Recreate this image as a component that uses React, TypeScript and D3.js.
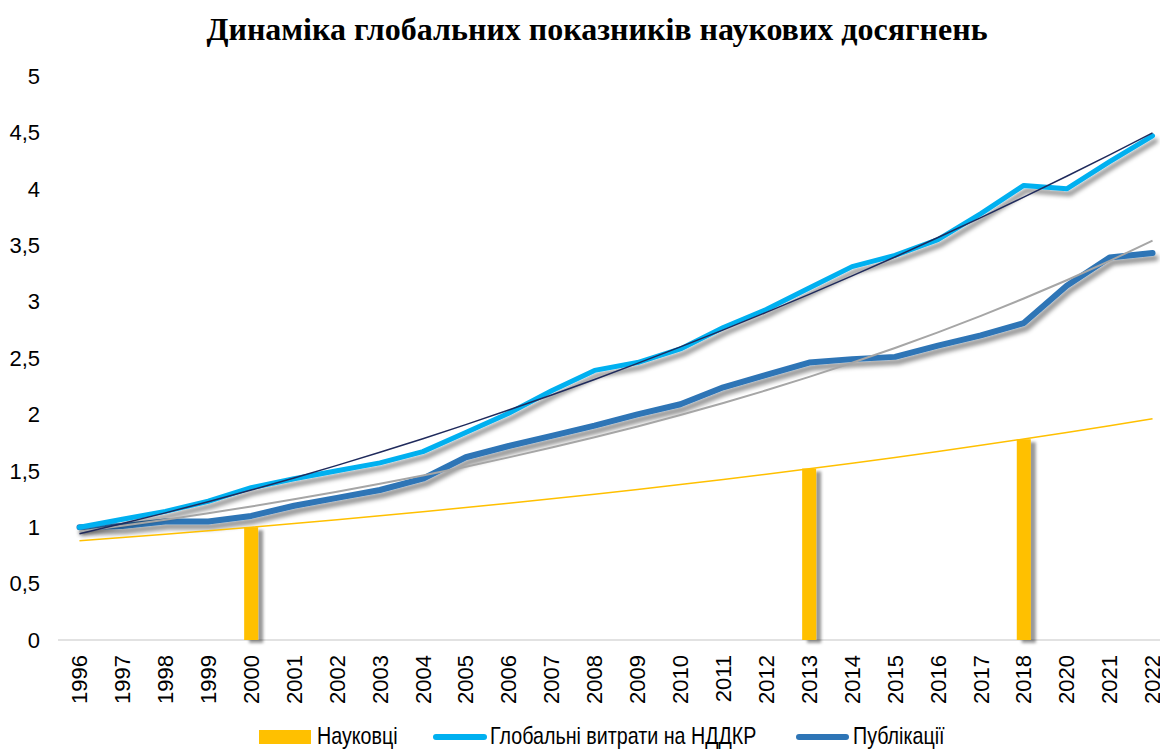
import React from 'react';
import * as d3 from 'd3';

const years = ['1996', '1997', '1998', '1999', '2000', '2001', '2002', '2003', '2004', '2005', '2006', '2007', '2008', '2009', '2010', '2011', '2012', '2013', '2014', '2015', '2016', '2017', '2018', '2020', '2021', '2022'];

// Науковці — only three years have values
const researchers: (number | null)[] = [null, null, null, null, 1.0, null, null, null, null, null, null, null, null, null, null, null, null, 1.52, null, null, null, null, 1.78, null, null, null];

// Глобальні витрати на НДДКР
const rdSpending = [1.0, 1.07, 1.14, 1.23, 1.35, 1.43, 1.5, 1.57, 1.67, 1.84, 2.01, 2.21, 2.39, 2.46, 2.58, 2.77, 2.93, 3.12, 3.31, 3.41, 3.55, 3.78, 4.03, 4.0, 4.24, 4.47];

// Публікації
const publications = [1.0, 1.01, 1.05, 1.05, 1.1, 1.19, 1.26, 1.33, 1.43, 1.62, 1.72, 1.81, 1.9, 2.0, 2.09, 2.24, 2.35, 2.46, 2.49, 2.51, 2.61, 2.7, 2.81, 3.14, 3.39, 3.43];

const yTicks = [0, 0.5, 1, 1.5, 2, 2.5, 3, 3.5, 4, 4.5, 5];

const W = 1160;
const H = 749;
const FONT = '"Liberation Sans", Arial, sans-serif';

const toPoints = (vals: (number | null)[]) =>
  vals.map((v, i) => [i, v] as [number, number | null]).filter((p) => p[1] != null) as [number, number][];

// least squares on (index, value)
function linFit(pts: [number, number][]) {
  const mx = d3.mean(pts, (p) => p[0])!;
  const my = d3.mean(pts, (p) => p[1])!;
  const sxy = d3.sum(pts, (p) => (p[0] - mx) * (p[1] - my));
  const sxx = d3.sum(pts, (p) => (p[0] - mx) ** 2);
  const b = sxy / sxx;
  return { a: my - b * mx, b };
}

// 2nd order polynomial trend (normal equations, Cramer's rule)
const polyTrend = (vals: (number | null)[]) => {
  const pts = toPoints(vals);
  const s = (k: number) => d3.sum(pts, (p) => p[0] ** k);
  const t = (k: number) => d3.sum(pts, (p) => p[0] ** k * p[1]);
  const M = [
    [pts.length, s(1), s(2)],
    [s(1), s(2), s(3)],
    [s(2), s(3), s(4)],
  ];
  const r = [t(0), t(1), t(2)];
  const det = (m: number[][]) =>
    m[0][0] * (m[1][1] * m[2][2] - m[1][2] * m[2][1]) -
    m[0][1] * (m[1][0] * m[2][2] - m[1][2] * m[2][0]) +
    m[0][2] * (m[1][0] * m[2][1] - m[1][1] * m[2][0]);
  const D = det(M);
  const coef = [0, 1, 2].map((c) => det(M.map((row, i) => row.map((v, j) => (j === c ? r[i] : v)))) / D);
  return (i: number) => coef[0] + coef[1] * i + coef[2] * i * i;
};

const expTrend = (vals: (number | null)[]) => {
  const pts = toPoints(vals).map((p) => [p[0], Math.log(p[1])] as [number, number]);
  const { a, b } = linFit(pts);
  return (i: number) => Math.exp(a + b * i);
};

const App: React.FC = () => {
  const x = d3.scaleBand<string>().domain(years).range([58, 1174]).padding(0);
  const y = d3.scaleLinear().domain([0, 5]).range([640, 76]);
  const cx = (yr: string) => (x(yr) ?? 0) + x.bandwidth() / 2;
  const barW = 14;

  const line = d3
    .line<number>()
    .x((_, i) => cx(years[i]))
    .y((d) => y(d));

  const trendPath = (f: (i: number) => number) => line(years.map((_, i) => f(i)));

  const rdTrend = polyTrend(rdSpending);
  const pubTrend = expTrend(publications);
  const resTrend = expTrend(researchers);

  const legendText = (lx: number, label: string) => (
    <text transform={`translate(${lx},744) scale(0.82,1)`}>{label}</text>
  );

  return (
    <svg width={W} height={H} style={{ position: 'absolute', left: 0, top: 0, background: '#fff' }}>
      <defs>
        <filter id="lineShadow" x="-5%" y="-20%" width="110%" height="140%">
          <feDropShadow dx="3" dy="5" stdDeviation="2" floodColor="#000" floodOpacity="0.42" />
        </filter>
        <filter id="barShadow" x="-50%" y="-10%" width="250%" height="120%">
          <feDropShadow dx="5" dy="3" stdDeviation="1.5" floodColor="#000" floodOpacity="0.4" />
        </filter>
      </defs>

      <text x={597} y={40} textAnchor="middle" fontFamily='"Liberation Serif", "Times New Roman", serif' fontWeight="bold" fontSize={32} fill="#000">
        Динаміка глобальних показників наукових досягнень
      </text>

      {/* y tick labels */}
      {yTicks.map((t) => (
        <text key={t} x={40} y={y(t)} dy="0.35em" textAnchor="end" fontFamily={FONT} fontSize={22} fill="#000">
          {String(t).replace('.', ',')}
        </text>
      ))}

      {/* x axis */}
      <line x1={58} x2={1174} y1={y(0)} y2={y(0)} stroke="#d9d9d9" strokeWidth={1.5} />
      {years.map((yr) => (
        <text
          key={yr}
          transform={`translate(${cx(yr)},${655}) rotate(-90)`}
          dy="0.35em"
          textAnchor="end"
          fontFamily={FONT}
          fontSize={22}
          fill="#000"
        >
          {yr}
        </text>
      ))}

      {/* bars */}
      {researchers.map((v, i) =>
        v == null ? null : (
          <rect
            key={years[i]}
            x={cx(years[i]) - barW / 2}
            y={y(v)}
            width={barW}
            height={y(0) - y(v)}
            fill="#FFC000"
            filter="url(#barShadow)"
          />
        )
      )}

      {/* lines */}
      <path d={line(publications) ?? ''} fill="none" stroke="#2E75B6" strokeWidth={6} strokeLinejoin="round" strokeLinecap="round" filter="url(#lineShadow)" />
      <path d={line(rdSpending) ?? ''} fill="none" stroke="#00B0F0" strokeWidth={5} strokeLinejoin="round" strokeLinecap="round" filter="url(#lineShadow)" />

      {/* trend lines */}
      <path d={trendPath(resTrend) ?? ''} fill="none" stroke="#FFC000" strokeWidth={1.5} />
      <path d={trendPath(pubTrend) ?? ''} fill="none" stroke="#A6A6A6" strokeWidth={2} />
      <path d={trendPath(rdTrend) ?? ''} fill="none" stroke="#1F2A5C" strokeWidth={1.5} />

      {/* legend */}
      <g fontFamily={FONT} fontSize={24} fill="#000">
        <rect x={259} y={730} width={52} height={14} fill="#FFC000" />
        {legendText(317, 'Науковці')}
        <line x1={436} x2={484} y1={737} y2={737} stroke="#00B0F0" strokeWidth={6} strokeLinecap="round" />
        {legendText(490, 'Глобальні витрати на НДДКР')}
        <line x1={799} x2={846} y1={737} y2={737} stroke="#2E75B6" strokeWidth={6} strokeLinecap="round" />
        {legendText(853, 'Публікації')}
      </g>
    </svg>
  );
};

export default App;
